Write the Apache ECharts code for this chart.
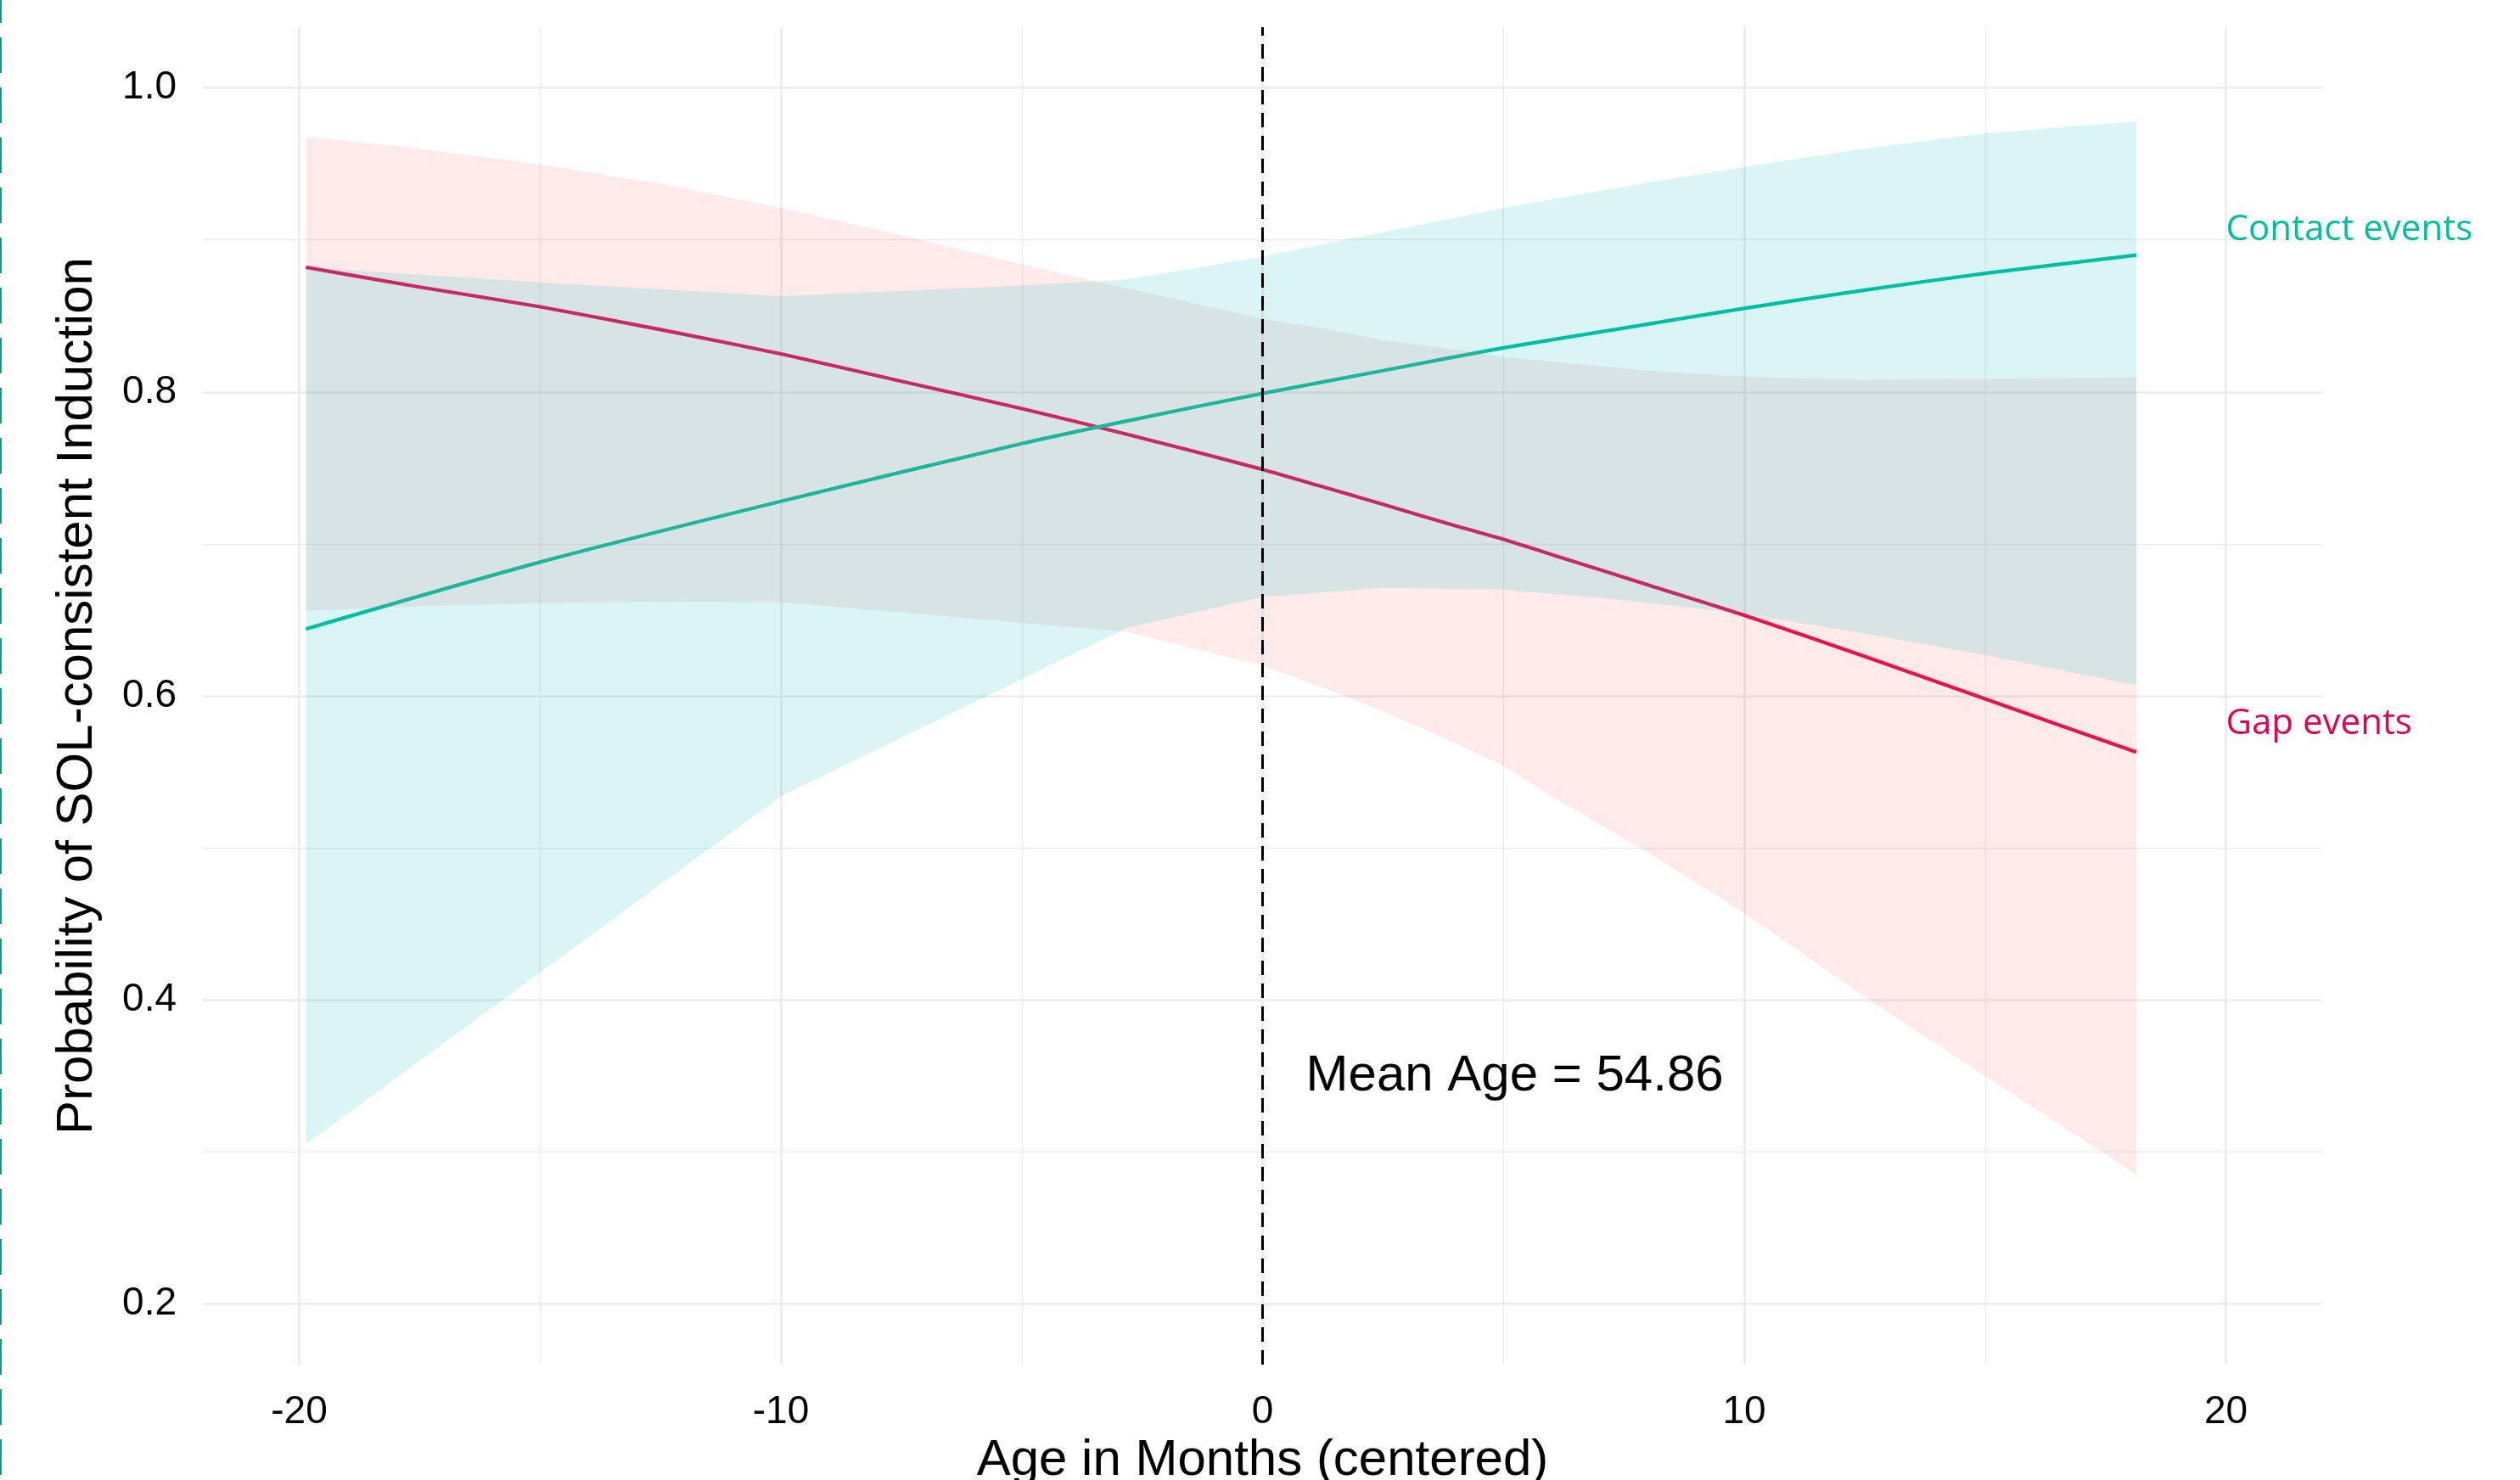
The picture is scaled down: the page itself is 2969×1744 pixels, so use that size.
<!DOCTYPE html>
<html>
<head>
<meta charset="utf-8">
<script src="https://cdn.jsdelivr.net/npm/echarts@6/dist/echarts.min.js"></script>
<style>
html,body{margin:0;padding:0;background:#fff;}
#chart{width:2969px;height:1744px;}
</style>
</head>
<body>
<div id="chart"></div>
<script>
// ---- data ----
const xTicks = [-20, -10, 0, 10, 20];
const xMinorTicks = [-15, -5, 5, 15];
const yTicks = [0.2, 0.4, 0.6, 0.8, 1.0];
const yMinorTicks = [0.3, 0.5, 0.7, 0.9];

// Contact events
const contactX     = [-19.86, -15, -10, -5, -2.8, 0, 2.5, 5, 7.5, 10, 12.5, 15, 18.14];
const contactFit   = [0.644, 0.688, 0.728, 0.766, 0.781, 0.799, 0.814, 0.829, 0.842, 0.855, 0.867, 0.878, 0.890];
const contactUpper = [0.882, 0.872, 0.863, 0.870, 0.874, 0.889, 0.905, 0.921, 0.935, 0.948, 0.960, 0.970, 0.978];
const contactLower = [0.305, 0.418, 0.534, 0.611, 0.645, 0.665, 0.671, 0.670, 0.663, 0.654, 0.641, 0.627, 0.607];

// Gap events
const gapX     = [-19.86, -17.5, -15, -12.5, -10, -7.5, -5, -2.8, 0, 1.2, 2.5, 4, 5, 6, 8, 10, 12.5, 15, 18.14];
const gapFit   = [0.882, 0.869, 0.856, 0.841, 0.825, 0.807, 0.789, 0.772, 0.749, 0.738, 0.726, 0.712, 0.703, 0.693, 0.673, 0.653, 0.626, 0.598, 0.563];
const gapUpper = [0.968, 0.960, 0.9495, 0.937, 0.921, 0.903, 0.884, 0.868, 0.848, 0.842, 0.834, 0.828, 0.823, 0.820, 0.814, 0.810, 0.808, 0.8085, 0.8095];
const gapLower = [0.656, 0.659, 0.661, 0.662, 0.6615, 0.655, 0.648, 0.642, 0.620, 0.606, 0.590, 0.569, 0.554, 0.534, 0.497, 0.457, 0.402, 0.350, 0.285];

const meanAgeLabel = 'Mean Age = 54.86';
const meanAgeX = 0;
const contactLabel = 'Contact events';
const gapLabel = 'Gap events';

// ---- styling ----
const TEAL = '#00BF9E';
const RED = '#E5004A';
const FONT = '"Liberation Sans", Arial, Helvetica, sans-serif';
const GRID_COLOR = '#EBEBEB';

function ribbon(xs, up, lo, fill) {
  return {
    type: 'custom', xAxisIndex: 0, yAxisIndex: 0, silent: true, z: 3,
    data: [0],
    renderItem: function (params, api) {
      const pts = [];
      for (let i = 0; i < xs.length; i++) pts.push(api.coord([xs[i], up[i]]));
      for (let i = xs.length - 1; i >= 0; i--) pts.push(api.coord([xs[i], lo[i]]));
      return { type: 'polygon', shape: { points: pts }, style: { fill: fill } };
    }
  };
}

const chart = echarts.init(document.getElementById('chart'));
chart.setOption({
  animation: false,
  backgroundColor: '#ffffff',
  grid: { left: 239, right: 233, top: 32, bottom: 136, containLabel: false, outerBoundsMode: 'none' },
  xAxis: [{
    type: 'value', min: -22, max: 22,
    axisLine: { show: false }, axisTick: { show: false, customValues: xTicks },
    axisLabel: { customValues: xTicks, fontSize: 46, color: '#000', fontFamily: FONT, margin: 33,
                 formatter: v => String(v) },
    splitLine: { show: true, lineStyle: { color: GRID_COLOR, width: 2.6 } },
    name: 'Age in Months (centered)', nameLocation: 'middle', nameGap: 79,
    nameTextStyle: { fontSize: 60, color: '#000', fontFamily: FONT }
  }, {
    type: 'value', min: -22, max: 22, position: 'top',
    axisLine: { show: false }, axisTick: { show: false, customValues: xMinorTicks },
    axisLabel: { show: false, customValues: xMinorTicks },
    splitLine: { show: true, lineStyle: { color: GRID_COLOR, width: 1.3 } }
  }],
  yAxis: [{
    type: 'value', min: 0.16, max: 1.04,
    axisLine: { show: false }, axisTick: { show: false, customValues: yTicks },
    axisLabel: { customValues: yTicks, fontSize: 46, color: '#000', fontFamily: FONT, margin: 31,
                 formatter: v => v.toFixed(1) },
    splitLine: { show: true, lineStyle: { color: GRID_COLOR, width: 2.6 } },
    name: 'Probability of SOL-consistent Induction', nameLocation: 'middle', nameGap: 118,
    nameTextStyle: { fontSize: 60, color: '#000', fontFamily: FONT }
  }, {
    type: 'value', min: 0.16, max: 1.04, position: 'right',
    axisLine: { show: false }, axisTick: { show: false, customValues: yMinorTicks },
    axisLabel: { show: false, customValues: yMinorTicks },
    splitLine: { show: true, lineStyle: { color: GRID_COLOR, width: 1.3 } }
  }],
  graphic: [{
    type: 'line', silent: true, z: 100,
    shape: { x1: 1, y1: 0, x2: 1, y2: 1744 },
    style: { stroke: '#0E9A97', lineWidth: 2, lineDash: [42, 17], lineDashOffset: 15 }
  }],
  series: [
    {
      type: 'line', name: 'Gap', xAxisIndex: 0, yAxisIndex: 0, z: 2,
      data: gapX.map((x, i) => [x, gapFit[i]]),
      showSymbol: false, symbol: 'none', silent: true, smooth: 0.25,
      lineStyle: { color: RED, width: 4.2 }
    },
    {
      type: 'line', name: 'Contact', xAxisIndex: 0, yAxisIndex: 0, z: 2,
      data: contactX.map((x, i) => [x, contactFit[i]]),
      showSymbol: false, symbol: 'none', silent: true, smooth: 0.25,
      lineStyle: { color: TEAL, width: 4.2 }
    },
    ribbon(gapX, gapUpper, gapLower, 'rgba(248,118,109,0.15)'),
    ribbon(contactX, contactUpper, contactLower, 'rgba(0,191,196,0.15)'),
    {
      type: 'scatter', xAxisIndex: 0, yAxisIndex: 0, z: 6, silent: true,
      symbolSize: 0, itemStyle: { opacity: 1 },
      data: [
        { value: [0.9, 0.3495], label: { formatter: meanAgeLabel, color: '#000', fontSize: 60, fontFamily: FONT } },
        { value: [20, 0.9065], label: { formatter: contactLabel, color: TEAL, fontSize: 42, fontFamily: '"Open Sans", sans-serif' } },
        { value: [20, 0.5815], label: { formatter: gapLabel, color: RED, fontSize: 42, fontFamily: '"Open Sans", sans-serif' } }
      ],
      label: { show: true, position: 'right', distance: 0, align: 'left', verticalAlign: 'middle', opacity: 1 },
      markLine: {
        silent: true, symbol: ['none', 'none'], label: { show: false },
        lineStyle: { color: '#000', width: 3, type: [17, 10], opacity: 1 },
        data: [{ xAxis: meanAgeX }]
      }
    }
  ]
});
</script>
</body>
</html>
